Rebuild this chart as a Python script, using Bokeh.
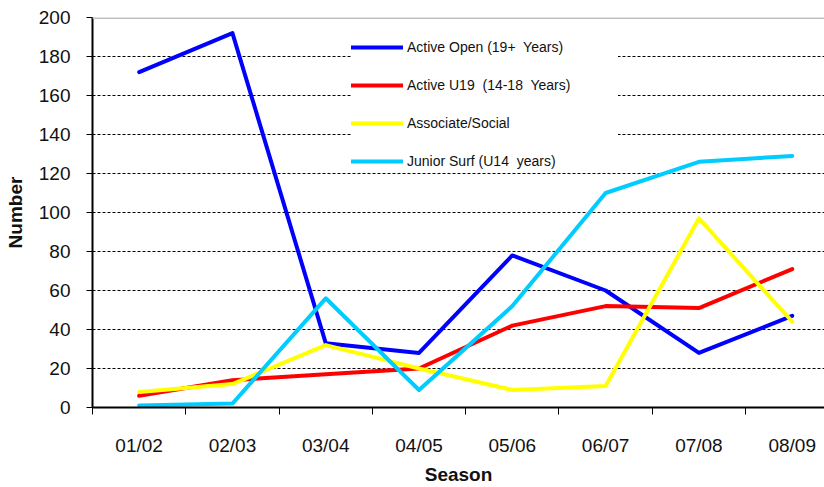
from bokeh.plotting import figure
from bokeh.models import (Range1d, FixedTicker, Legend, LegendItem, Span)
from bokeh.embed import file_html
from bokeh.resources import INLINE

seasons = ["01/02", "02/03", "03/04", "04/05", "05/06", "06/07", "07/08", "08/09"]
active_open = [172, 192, 33, 28, 78, 60, 28, 47]
active_u19 = [6, 14, 17, 20, 42, 52, 51, 71]
associate_social = [8, 12, 32, 20, 9, 11, 97, 44]
junior_surf = [1, 2, 56, 9, 52, 110, 126, 129]
y_ticks = [0, 20, 40, 60, 80, 100, 120, 140, 160, 180, 200]

series = [
    ("Active Open (19+  Years)", active_open, "#0000FF"),
    ("Active U19  (14-18  Years)", active_u19, "#FF0000"),
    ("Associate/Social", associate_social, "#FFFF00"),
    ("Junior Surf (U14  years)", junior_surf, "#00CCFF"),
]

FONT = "Liberation Sans"
xs = list(range(len(seasons)))

p = figure(width=824, height=487, output_backend="svg", toolbar_location=None,
           x_range=Range1d(-0.5, 7.346), y_range=Range1d(0, 200),
           min_border_left=92, min_border_right=0, min_border_top=17,
           min_border_bottom=79)
p.outline_line_color = None
p.background_fill_color = "white"
p.border_fill_color = "white"

items = []
for label, vals, color in series:
    r = p.line(xs, vals, line_color=color, line_width=4, line_join="round",
               line_cap="round")
    items.append(LegendItem(label=label, renderers=[r]))

# top border line of plot area
p.add_layout(Span(location=200, dimension="width", line_color="#c0c0c0",
                  line_width=3))

# x axis
p.xaxis.ticker = FixedTicker(ticks=xs, minor_ticks=[i - 0.5 for i in range(len(seasons) + 1)])
p.xaxis.major_label_overrides = {i: s for i, s in enumerate(seasons)}
p.xaxis.major_tick_out = 0
p.xaxis.major_tick_in = 0
p.xaxis.minor_tick_out = 7
p.xaxis.minor_tick_in = 0
p.xaxis.major_label_standoff = 20
p.xaxis.axis_label = "Season"
p.xaxis.axis_label_standoff = 5

# y axis
p.yaxis.ticker = FixedTicker(ticks=y_ticks)
p.yaxis.major_tick_out = 6
p.yaxis.major_tick_in = 0
p.yaxis.minor_tick_out = 0
p.yaxis.minor_tick_in = 0
p.yaxis.major_label_standoff = 16
p.yaxis.axis_label = "Number"
p.yaxis.axis_label_standoff = 10

for ax in (p.xaxis, p.yaxis):
    ax.axis_line_color = "black"
    ax.axis_line_width = 2
    ax.major_tick_line_color = "black"
    ax.minor_tick_line_color = "black"
    ax.major_tick_line_width = 1
    ax.minor_tick_line_width = 1
    ax.major_label_text_font = FONT
    ax.major_label_text_font_size = "19px"
    ax.major_label_text_color = "#111111"
    ax.axis_label_text_font = FONT
    ax.axis_label_text_font_size = "19px"
    ax.axis_label_text_font_style = "bold"
    ax.axis_label_text_color = "#111111"

p.xgrid.grid_line_color = None
p.ygrid.ticker = FixedTicker(ticks=y_ticks[1:-1])
p.ygrid.grid_line_color = "black"
p.ygrid.grid_line_dash = "3 2"
p.ygrid.grid_line_width = 1

legend = Legend(items=items, location=(259, 236), orientation="vertical")
legend.background_fill_color = "white"
legend.background_fill_alpha = 1.0
legend.border_line_color = None
legend.padding = 10
legend.spacing = 18
legend.label_height = 20
legend.glyph_height = 20
legend.glyph_width = 52
legend.label_standoff = 4
legend.label_width = 211
legend.label_text_font = FONT
legend.label_text_font_size = "14px"
legend.label_text_color = "#111111"
legend.margin = 0
p.add_layout(legend, "center")

open("out.html", "w").write(file_html(p, INLINE))
